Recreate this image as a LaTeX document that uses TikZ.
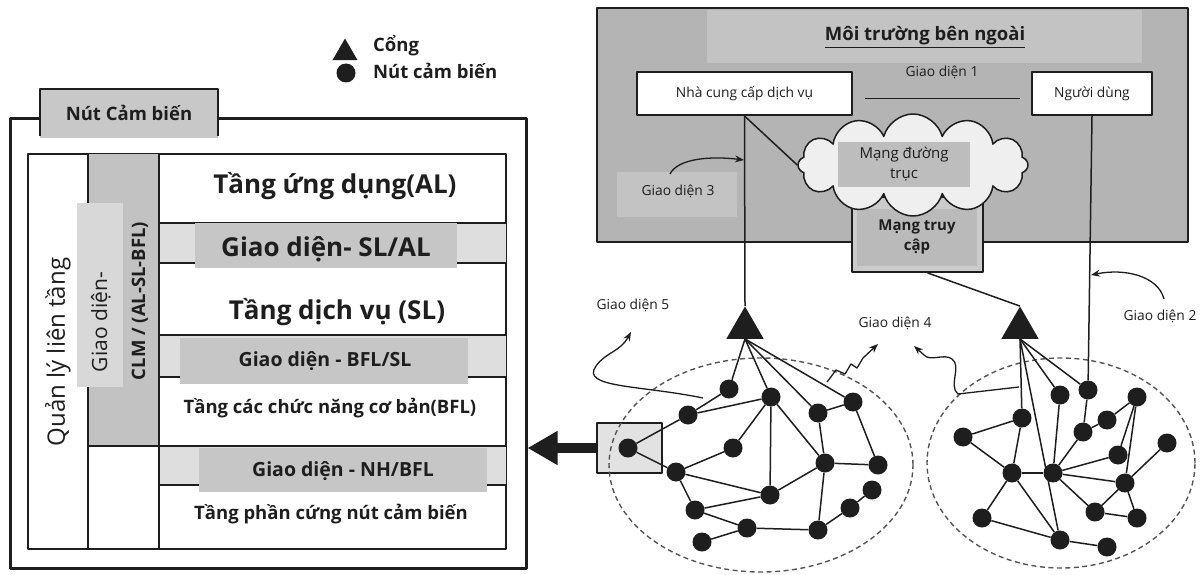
\documentclass[tikz,border=0pt]{standalone}
\usepackage{fontspec}
\setmainfont{Open Sans}
\usetikzlibrary{arrows.meta,shapes.geometric,shapes.symbols,calc}
\definecolor{ink}{HTML}{1E1E1E}
\definecolor{tabgray}{HTML}{C8C8C8}
\definecolor{colgray}{HTML}{C2C2C2}
\definecolor{patchgray}{HTML}{D8D8D8}
\definecolor{bandgray}{HTML}{DEDEDE}
\definecolor{boxgray}{HTML}{C6C6C6}
\definecolor{envgray}{HTML}{B4B4B4}
\definecolor{envlight}{HTML}{C3C3C3}
\definecolor{cloudfill}{HTML}{EFEFEF}
\definecolor{cloudbox}{HTML}{BDBDBD}
\definecolor{accfill}{HTML}{CBCBCB}
\definecolor{accbox}{HTML}{BABABA}
\definecolor{sboxfill}{HTML}{E2E2E2}
\definecolor{dashgray}{HTML}{555555}
\newcommand\fsz[1]{\fontsize{#1}{#1}\selectfont}
\begin{document}
\begin{tikzpicture}[x=1pt,y=-1pt,line join=round,
  ln/.style={draw=ink,line width=1.5pt},
  sn/.style={circle,fill=ink,minimum size=19pt,inner sep=0pt},
  gwy/.style={regular polygon,regular polygon sides=3,fill=ink,minimum size=43pt,inner sep=0pt},
  big/.style={font=\bfseries\fsz{26},text=ink,inner sep=0pt},
  mid/.style={font=\bfseries\fsz{18.5},text=ink,inner sep=0pt},
  ifc/.style={font=\bfseries\fsz{19.5},text=ink,inner sep=0pt},
  sm/.style={font=\fsz{13.8},text=ink,inner sep=0pt},
  cur/.style={draw=ink,line width=1.3pt,-{Stealth[length=9pt,width=7pt]}},
  net/.style={ellipse,draw=dashgray,line width=1.4pt,dash pattern=on 5pt off 3.5pt,inner sep=0pt}]
\useasboundingbox (0,0) rectangle (1201,575);

% ---------- legend ----------
\node[gwy,minimum size=29pt] (lgw) at (345,53) {};
\node[sn] (lsn) at (346,73) {};
\node[mid,anchor=west] (lgwt) at (373,46) {Cổng};
\node[mid,anchor=west] (lsnt) at (373,71) {Nút cảm biến};

% ---------- sensor node stack ----------
\node[draw=ink,line width=3pt,minimum width=516pt,minimum height=449pt,inner sep=0pt] (frame) at (268,343.5) {};
\fill[tabgray] (40,89) rectangle (218,138);
\draw[ink,line width=2pt] (40,136)--(40,89)--(218,89)--(218,136);
\node[mid] (tab) at (129,113) {Nút Cảm biến};

\draw[ink,line width=1.8pt] (28,154) rectangle (506,549);
\fill[bandgray] (159,223) rectangle (506,263);
\fill[bandgray] (159,335) rectangle (506,377);
\fill[bandgray] (159,446) rectangle (506,485);
\fill[colgray] (88,154) rectangle (159,446);
\draw[ink,line width=1.8pt] (88,154)--(88,549) (159,154)--(159,549);
\draw[ink,line width=1.8pt] (159,223)--(506,223) (159,263)--(506,263)
  (159,335)--(506,335) (159,377)--(506,377) (88,446)--(506,446) (159,485)--(506,485);
\fill[patchgray] (77,203) rectangle (123,387);
\fill[boxgray] (195,223) rectangle (457,268);
\fill[boxgray] (180,338) rectangle (468,384);
\fill[boxgray] (199,448) rectangle (487,492);

\node[big] (al) at (335,186) {Tầng ứng dụng(AL)};
\node[big] (slal) at (326,249) {Giao diện- SL/AL};
\node[big] (sl) at (337,312) {Tầng dịch vụ (SL)};
\node[ifc] (bflsl) at (325,361) {Giao diện - BFL/SL};
\node[mid] (bfl) at (330,408) {Tầng các chức năng cơ bản(BFL)};
\node[ifc] (nhbfl) at (343,471) {Giao diện - NH/BFL};
\node[mid] (hw) at (331,514) {Tầng phần cứng nút cảm biến};

\node[font=\fsz{24},text=ink,rotate=90,inner sep=0pt] (clmq) at (58,352) {Quản lý liên tầng};
\node[font=\fsz{21},text=ink,rotate=90,inner sep=0pt] (clmg) at (101,322) {Giao diện-};
\node[font=\bfseries\fsz{18.5},text=ink,rotate=90,inner sep=0pt] (clmn) at (140,301) {CLM / (AL-SL-BFL)};

% ---------- external environment ----------
\node[draw=ink,fill=envgray,line width=2pt,minimum width=591pt,minimum height=234pt,inner sep=0pt] (env) at (892.5,125) {};
\fill[envlight] (707,10) rectangle (1142,63);
\fill[envlight] (617,172) rectangle (737,217);
\node[mid] (envt) at (925,37) {\underline{Môi trường bên ngoài}};
\node[draw=ink,fill=white,line width=2pt,minimum width=215pt,minimum height=43pt,inner sep=0pt,sm] (prov) at (744.5,93.5) {Nhà cung cấp dịch vụ};
\node[draw=ink,fill=white,line width=2pt,minimum width=120pt,minimum height=43pt,inner sep=0pt,sm] (usr) at (1092,93.5) {Người dùng};
\node[sm] (gd1) at (942,72) {Giao diện 1};
\coordinate (g1a) at (865,99);
\coordinate (g1b) at (1020,99);
\draw[ink,line width=1pt] (g1a)--(g1b);
\node[sm] (gd3) at (678,191) {Giao diện 3};

\node[draw=ink,fill=accfill,line width=1.8pt,minimum width=131pt,minimum height=75pt,inner sep=0pt] (acc) at (917.5,234.5) {};
\node[fill=accbox,minimum width=120pt,minimum height=57pt,inner sep=0pt,align=center,font=\bfseries\fontsize{15}{20}\selectfont,text=ink] (accin) at (917,237) {Mạng truy\\cập};

\node[cloud,cloud puffs=12,aspect=1.6,draw=ink,fill=cloudfill,line width=1.5pt,minimum width=230pt,minimum height=102pt,inner sep=0pt] (bb) at (913,165) {};
\node[fill=cloudbox,minimum width=132pt,minimum height=45pt,inner sep=0pt,align=center,font=\fontsize{15}{20}\selectfont,text=ink] (bbin) at (904,164.5) {Mạng đường\\trục};

% ---------- gateways ----------
\node[gwy] (gw1) at (745,328) {};
\node[gwy] (gw2) at (1020,328) {};

\draw[ln] (prov.south) -- (gw1.corner 1);
\draw[ln] (prov.south) -- (bb.west);
\draw[ln] ($(acc.south)+(10,0)$) -- (gw2.corner 1);

\coordinate (g3s) at (670,174);
\coordinate (g3e) at (744,160);
\draw[cur] (g3s) .. controls (678,158) and (712,156) .. (g3e);

\node[sm] (gd2) at (1160,316) {Giao diện 2};
\coordinate (g2s) at (1164,299);
\coordinate (g2e) at (1091,275);
\draw[cur] (g2s) .. controls (1158,276) and (1125,268) .. (g2e);

% ---------- left sensor field ----------
\node[draw=ink,fill=sboxfill,line width=2.5pt,minimum width=65pt,minimum height=50pt,inner sep=0pt] (sbox) at (629.5,448) {};
\draw[ink,line width=10pt,-{Triangle[length=30pt,width=32pt]}] (sbox.west) -- (sbox.west -| frame.east);
\node[net,minimum width=304pt,minimum height=214pt] (netL) at (761,465) {};

\foreach \n/\x/\y in {l1/628/448,l2/688/415,l3/729/389,l4/771/397,l5/733/448,l6/676/472,
  l7/770/495,l8/695/510,l9/747/528,l10/702/542,l11/818/413,l12/853/402,l13/825/463,
  l14/878/465,l15/872/490,l16/850/508,l17/818/530}
  \node[sn] (\n) at (\x,\y) {};
\foreach \a/\b in {l1/l2,l1/l6,l2/l3,l2/l4,l4/l5,l4/l7,l4/l13,l6/l5,l6/l7,l6/l8,l8/l7,
  l8/l9,l10/l9,l9/l17,l7/l13,l11/l12,l11/l13,l12/l14,l13/l14,l13/l17,l17/l16,l16/l15}
  \draw[ln] (\a) -- (\b);
\foreach \b in {l3,l4,l11,l12}
  \draw[ln] (gw1.south) -- (\b);

% ---------- right sensor field ----------
\node[net,minimum width=268pt,minimum height=210pt] (netR) at (1061,463) {};
\foreach \n/\x/\y in {r1/1022/418,r2/963/437,r3/1060/395,r4/1088/390,r5/1083/432,
  r6/1107/420,r7/1137/397,r8/1118/455,r9/1167/443,r10/1012/473,r11/1053/473,
  r12/1125/483,r13/982/518,r14/1095/512,r15/1137/518,r16/1060/540,r17/1107/547}
  \node[sn] (\n) at (\x,\y) {};
\foreach \a/\b in {r1/r2,r1/r10,r2/r10,r10/r11,r10/r13,r10/r16,r13/r16,r3/r11,r4/r5,
  r11/r5,r11/r8,r11/r12,r11/r14,r16/r17,r6/r7,r7/r8,r7/r12,r5/r6,r9/r12,r12/r14,
  r12/r15,r14/r15}
  \draw[ln] (\a) -- (\b);
\foreach \b in {r1,r3,r4,r16}
  \draw[ln] (gw2.south) -- (\b);
\draw[ln] (usr.south) -- (r4);

% ---------- interface pointers in the field ----------
\node[sm] (gd5) at (633,305) {Giao diện 5};
\coordinate (g5s) at (703,398);
\coordinate (g5e) at (631,332);
\draw[cur] (g5s) .. controls (640,385) and (580,388) .. (596,366)
  .. controls (606,352) and (620,352) .. (g5e);

\node[sm] (gd4) at (895,323) {Giao diện 4};
\coordinate (g4a) at (827,382);
\coordinate (g4ae) at (878,344);
\draw[cur] (g4a) -- (836,370) -- (845,374) -- (851,364) -- (857,368) -- (863,358) -- (g4ae);
\coordinate (g4b) at (1019,387);
\coordinate (g4be) at (914,346);
\draw[cur] (g4b) -- (958,394) .. controls (948,386) and (962,366) .. (952,359)
  .. controls (944,353) and (930,362) .. (924,355) -- (g4be);
\end{tikzpicture}
\end{document}
